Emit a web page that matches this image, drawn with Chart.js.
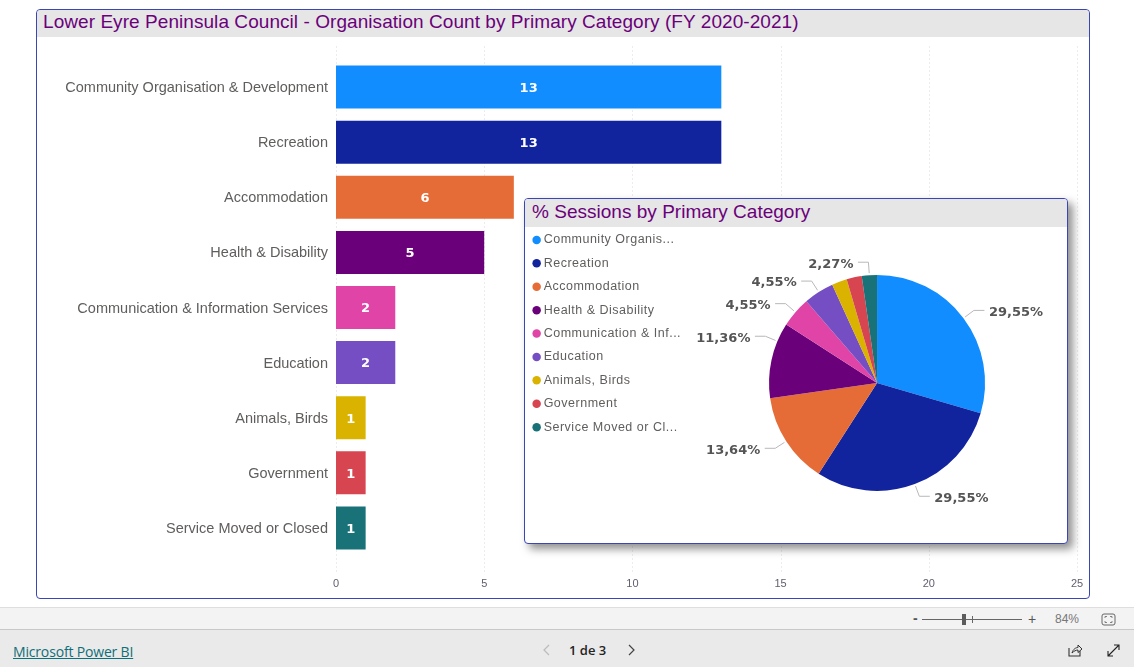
<!DOCTYPE html>
<html>
<head>
<meta charset="utf-8">
<script src="https://cdn.jsdelivr.net/npm/chart.js@4"></script>
<style>
html,body{margin:0;padding:0;background:#fff;width:1134px;height:667px;overflow:hidden;font-family:"Liberation Sans",Arial,sans-serif}
.panel{position:absolute;box-sizing:border-box;border:1px solid #3B46B6;border-radius:4px;background:#fff;overflow:hidden}
#main{left:36px;top:9px;width:1054px;height:590px}
#inset{left:524px;top:198px;width:544px;height:346px;box-shadow:5px 5px 8px rgba(70,70,70,.6);overflow:visible}
.title{position:absolute;left:0;top:0;right:0;background:#E6E6E6;color:#6B007B;white-space:nowrap;border-radius:3px 3px 0 0}
#main .title{height:27px;line-height:24px;font-size:19px;padding-left:6px;letter-spacing:.06px}
#inset .title{height:28px;line-height:26px;font-size:19px;padding-left:7px;letter-spacing:.02px}
canvas{position:absolute;display:block}
#bar{left:0;top:0}
#pie{left:0;top:0}
#zoombar{position:absolute;left:0;top:607px;width:1134px;height:23px;box-sizing:border-box;background:#F3F3F3;border-top:1px solid #DEDEDE;border-bottom:1px solid #C8C8C8}
#foot{position:absolute;left:0;top:630px;width:1134px;height:37px;background:#EAEAEA}
.t{position:absolute;white-space:nowrap}
svg{position:absolute;overflow:visible}
</style>
</head>
<body>
<div class="panel" id="main">
  <canvas id="bar" width="1052" height="588"></canvas>
  <div class="title">Lower Eyre Peninsula Council - Organisation Count by Primary Category (FY 2020-2021)</div>
</div>
<div class="panel" id="inset">
  <canvas id="pie" width="549" height="344"></canvas>
  <div class="title">% Sessions by Primary Category</div>
</div>
<div id="zoombar">
  <span class="t" style="left:913px;top:2px;font-size:14px;font-weight:bold;color:#555">-</span>
  <svg style="left:0;top:0" width="1134" height="23">
    <line x1="922" y1="11.5" x2="1022" y2="11.5" stroke="#666" stroke-width="1"/>
    <rect x="962" y="6" width="4" height="11" fill="#5c5c5c"/>
    <line x1="972.5" y1="8" x2="972.5" y2="15" stroke="#666"/>
    <rect x="1102" y="6" width="13" height="11" rx="2" fill="none" stroke="#666"/>
    <path d="M1105 10V8.5H1107M1112 10V8.5H1110M1105 13V14.5H1107M1112 13V14.5H1110" fill="none" stroke="#666" stroke-width=".8"/>
  </svg>
  <span class="t" style="left:1028px;top:3px;font-size:14px;color:#555">+</span>
  <span class="t" style="left:1055px;top:4px;font-size:12px;color:#777">84%</span>
</div>
<div id="foot">
  <span class="t" style="left:13px;top:12px;font-size:14px;letter-spacing:-.17px;color:#0F6E78;text-decoration:underline;font-family:'Open Sans'">Microsoft Power BI</span>
  <span class="t" style="left:569px;top:11px;font-size:13px;color:#252423;font-weight:600;font-family:'Open Sans'">1 de 3</span>
  <svg style="left:0;top:0" width="1134" height="37">
    <path d="M549 15L544 20L549 25" fill="none" stroke="#bbb" stroke-width="1.2"/>
    <path d="M629 15L634 20L629 25" fill="none" stroke="#444" stroke-width="1.2"/>
    <path d="M1069 18V26H1080V21" fill="none" stroke="#333" stroke-width="1.1"/>
    <path d="M1072 23C1073 19 1076 17.5 1078 17.5V15L1082 19L1078 22.500V20C1076 20 1074 21 1072 23Z" fill="none" stroke="#333" stroke-width="1"/>
    <path d="M1108 26L1119 15M1114 15H1119V20M1108 21V26H1113" fill="none" stroke="#222" stroke-width="1.1"/>
  </svg>
</div>
<script>
const categories = ["Community Organisation & Development","Recreation","Accommodation","Health & Disability","Communication & Information Services","Education","Animals, Birds","Government","Service Moved or Closed"];
const legendLabels = ["Community Organis...","Recreation","Accommodation","Health & Disability","Communication & Inf...","Education","Animals, Birds","Government","Service Moved or Cl..."];
const orgCounts = [13,13,6,5,2,2,1,1,1];
const sessionPct = [29.55,29.55,13.64,11.36,4.55,4.55,2.27,2.27,2.27];
const hiddenPieLabels = ["Animals, Birds","Government"];
const colors = ["#118DFF","#12239E","#E66C37","#6B007B","#E044A7","#744EC2","#D9B300","#D64550","#197278"];
const xTicks = [0,5,10,15,20,25];
const textGray = "#605E5C";
const font = '"Liberation Sans", Arial, sans-serif';
const boldFont = '"DejaVu Sans", sans-serif';

const barExtras = {
  id:'barExtras',
  beforeDatasetsDraw(c){
    const ctx=c.ctx, x=c.scales.x;
    ctx.save();
    ctx.strokeStyle='#D9D9D9';ctx.lineWidth=1;ctx.setLineDash([1,3]);
    xTicks.forEach(v=>{
      const px=Math.round(x.getPixelForValue(v))+.5;
      ctx.beginPath();ctx.moveTo(px,c.chartArea.top-13);ctx.lineTo(px,c.chartArea.bottom+17);ctx.stroke();
    });
    ctx.restore();
  },
  afterDatasetsDraw(c){
    const ctx=c.ctx, meta=c.getDatasetMeta(0);
    ctx.save();
    ctx.font='bold 13px '+boldFont;ctx.fillStyle='#fff';
    ctx.textAlign='center';ctx.textBaseline='middle';
    meta.data.forEach((b,i)=>{
      ctx.fillText(String(orgCounts[i]),(b.base+b.x)/2,b.y+1.5);
    });
    ctx.restore();
  }
};

new Chart(document.getElementById('bar'),{
  type:'bar',
  data:{labels:categories,datasets:[{data:orgCounts,backgroundColor:colors,borderWidth:0,barPercentage:.78,categoryPercentage:1}]},
  plugins:[barExtras],
  options:{
    indexAxis:'y',responsive:false,animation:false,devicePixelRatio:1,
    layout:{padding:{left:0,right:12,top:49.5,bottom:0}},
    plugins:{legend:{display:false},tooltip:{enabled:false},title:{display:false}},
    scales:{
      x:{min:0,max:25,
        afterBuildTicks(s){s.ticks=xTicks.map(v=>({value:v}));},
        afterFit(s){s.height=42.5;s.paddingLeft=0;s.paddingRight=0;},
        grid:{display:false},border:{display:false},
        ticks:{color:'#5F5F6E',font:{size:11,family:font},padding:13.5,maxRotation:0}},
      y:{grid:{display:false},border:{display:false},
        afterFit(s){s.width=299;},
        ticks:{color:textGray,font:{size:14.5,family:font},padding:0,labelOffset:1}}
    }
  }
});

const pieExtras = {
  id:'pieExtras',
  beforeDraw(c){c.ctx.letterSpacing='0.5px';},
  afterDatasetsDraw(c){
    c.ctx.letterSpacing='0px';
    const ctx=c.ctx, meta=c.getDatasetMeta(0);
    ctx.save();
    ctx.font='bold 13px '+boldFont;ctx.textBaseline='middle';
    meta.data.forEach((a,i)=>{
      if(hiddenPieLabels.includes(categories[i]))return;
      // the Health & Disability label is moved along its slice, as in the reference, to clear its neighbour
      const nudge=categories[i]==="Health & Disability"?10.4*Math.PI/180:0;
      const mid=(a.startAngle+a.endAngle)/2+nudge, R=a.outerRadius;
      const cs=Math.cos(mid), sn=Math.sin(mid);
      const x1=a.x+(R+2)*cs, y1=a.y+(R+2)*sn;
      const x2=a.x+(R+13)*cs, y2=a.y+(R+13)*sn;
      const dir=cs>=0?1:-1;
      const x3=x2+dir*10.5;
      ctx.strokeStyle='#B8B8B8';ctx.lineWidth=1;
      ctx.beginPath();ctx.moveTo(x1,y1);ctx.lineTo(x2,y2);ctx.lineTo(x3,y2);ctx.stroke();
      const t=sessionPct[i].toFixed(2).replace('.',',')+'%';
      ctx.textAlign=dir>0?'left':'right';
      ctx.fillStyle='#555';
      ctx.fillText(t,x3+dir*4.5,y2+2);
    });
    ctx.restore();
  }
};

new Chart(document.getElementById('pie'),{
  type:'pie',
  data:{labels:legendLabels,datasets:[{data:sessionPct,backgroundColor:colors,borderWidth:0,radius:108}]},
  plugins:[pieExtras],
  options:{
    responsive:false,animation:false,devicePixelRatio:1,
    layout:{padding:{left:0,right:0,top:23.8,bottom:0}},
    plugins:{
      tooltip:{enabled:false},title:{display:false},
      legend:{position:'left',align:'start',
        labels:{usePointStyle:true,pointStyle:'circle',boxWidth:1.5,boxHeight:6,padding:10.9,color:textGray,
          font:{size:12.5,family:font}}}
    }
  }
});
</script>
</body>
</html>
